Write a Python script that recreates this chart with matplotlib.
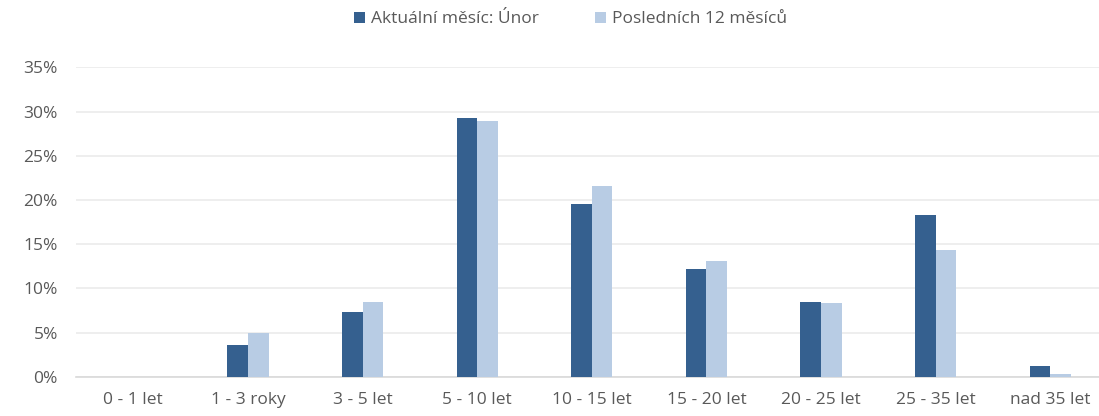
import matplotlib
matplotlib.use("Agg")
import matplotlib.pyplot as plt
import numpy as np

categories = ["0 - 1 let", "1 - 3 roky", "3 - 5 let", "5 - 10 let", "10 - 15 let",
              "15 - 20 let", "20 - 25 let", "25 - 35 let", "nad 35 let"]
current = [0.0, 3.6, 7.3, 29.3, 19.5, 12.2, 8.5, 18.3, 1.2]
last12 = [0.0, 5.0, 8.5, 28.9, 21.6, 13.1, 8.3, 14.3, 0.3]
series_names = ["Aktuální měsíc: Únor", "Posledních 12 měsíců"]

plt.rcParams['font.family'] = ['Open Sans', 'DejaVu Sans']
text_col = "#595959"

fig = plt.figure(figsize=(10.99, 4.16), dpi=100)
ax = fig.add_axes([0.0692, 0.094, 0.9386, 0.744])

ind = np.arange(len(categories))
width = 0.18
ax.bar(ind - width / 2, current, width, color="#35608F", label=series_names[0], zorder=3)
ax.bar(ind + width / 2, last12, width, color="#B8CCE4", label=series_names[1], zorder=3)

ax.set_xlim(-0.5, len(categories) - 0.5)
ax.set_ylim(0, 35)
ax.set_yticks(np.arange(0, 36, 5))
ax.set_yticklabels([f"{v}%" for v in range(0, 36, 5)])
ax.set_xticks(ind)
ax.set_xticklabels(categories)
ax.tick_params(axis='both', length=0, labelsize=12.5, colors=text_col)
ax.tick_params(axis='y', pad=13)
ax.tick_params(axis='x', pad=11)
ax.grid(axis='y', color="#EBEBEB", linewidth=1.2, zorder=0)
for s in ["top", "right", "left"]:
    ax.spines[s].set_visible(False)
ax.spines["bottom"].set_color("#D9D9D9")
ax.spines["bottom"].set_linewidth(1.2)

fig.legend(loc="upper center", bbox_to_anchor=(0.519, 1.01), ncol=2, frameon=False,
           fontsize=12.5, handlelength=0.65, handleheight=0.65, handletextpad=0.35,
           columnspacing=3.2, labelcolor=text_col)

fig.savefig("out.png", dpi=100)
